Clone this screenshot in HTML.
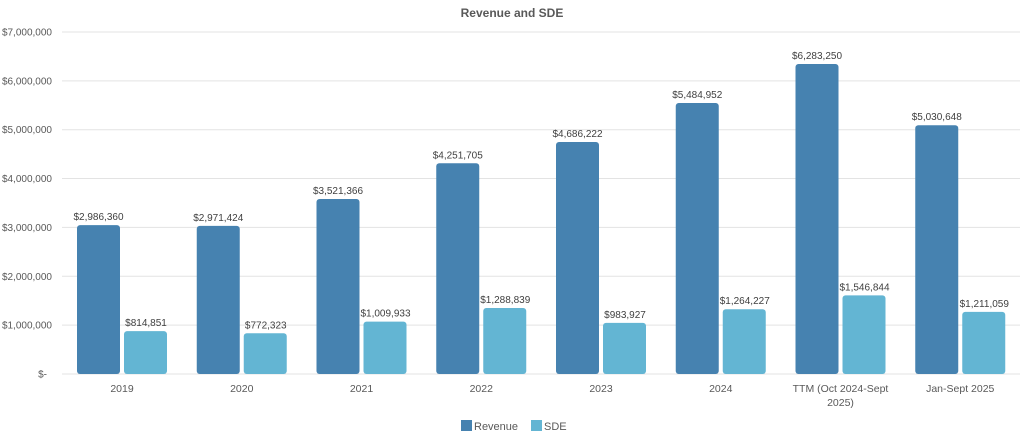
<!DOCTYPE html>
<html><head><meta charset="utf-8"><style>
body{margin:0;background:#fff;}
svg{display:block;font-family:"Liberation Sans",sans-serif;}
</style></head><body>
<svg width="1024" height="439" viewBox="0 0 1024 439">
<text x="512" y="17" text-anchor="middle" font-size="12" font-weight="bold" fill="#595959">Revenue and SDE</text>
<g id="grid" stroke="#e3e3e3" stroke-width="1"></g>
<g id="yl" font-size="10" fill="#595959" text-anchor="end"></g>
<g id="bars"></g>
<g id="xl" font-size="10.5" fill="#595959" text-anchor="middle"></g>
<rect x="461" y="420" width="11" height="11" fill="#4682b0"/>
<text x="474" y="430" font-size="11" fill="#595959">Revenue</text>
<rect x="531" y="420" width="11" height="11" fill="#63b5d3"/>
<text x="544" y="430" font-size="11" fill="#595959">SDE</text>
</svg>
<script>
var ns="http://www.w3.org/2000/svg";
function el(p,t,a,txt){var e=document.createElementNS(ns,t);for(var k in a)e.setAttribute(k,a[k]);if(txt)e.textContent=txt;document.getElementById(p).appendChild(e);}
var y0=374,pm=48.86;
var yl=["$-","$1,000,000","$2,000,000","$3,000,000","$4,000,000","$5,000,000","$6,000,000","$7,000,000"];
for(var i=0;i<8;i++){var y=y0-i*pm;el("grid","line",{x1:62,x2:1020,y1:y,y2:y});el("yl","text",{x:i==0?47:52,y:y+3.5},yl[i]);}
var d=[["2019",2986360,814851],["2020",2971424,772323],["2021",3521366,1009933],["2022",4251705,1288839],["2023",4686222,983927],["2024",5484952,1264227],["TTM (Oct 2024-Sept|2025)",6283250,1546844],["Jan-Sept 2025",5030648,1211059]];
function f(v){return "$"+v.toLocaleString("en-US");}
for(var i=0;i<8;i++){var gx=62+i*119.75;
var h1=d[i][1]*pm/1e6+3,h2=d[i][2]*pm/1e6+3;
el("bars","rect",{x:gx+15,y:y0-h1,width:43,height:h1,rx:3,fill:"#4682b0"});
el("bars","rect",{x:gx+62,y:y0-h2,width:43,height:h2,rx:3,fill:"#63b5d3"});
el("bars","text",{x:gx+36.5,y:y0-h1-5,"font-size":10,fill:"#404040","text-anchor":"middle"},f(d[i][1]));
el("bars","text",{x:gx+84,y:y0-h2-5,"font-size":10,fill:"#404040","text-anchor":"middle"},f(d[i][2]));
var ls=d[i][0].split("|");for(var j=0;j<ls.length;j++)el("xl","text",{x:gx+60,y:392+j*14},ls[j]);}
</script>
</body></html>
